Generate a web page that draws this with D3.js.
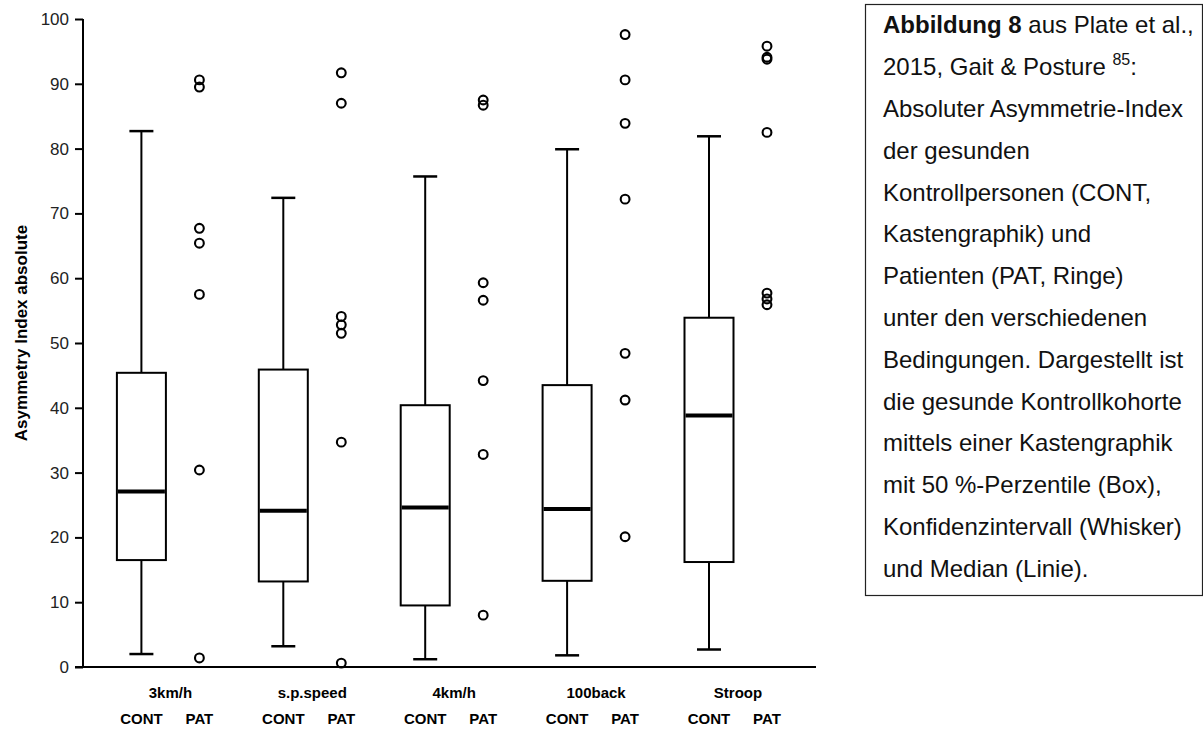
<!DOCTYPE html>
<html>
<head>
<meta charset="utf-8">
<script src="https://cdn.jsdelivr.net/npm/d3@7"></script>
<style>
  body { margin: 0; background: #fff; }
  svg { font-family: Arial, "Liberation Sans", sans-serif; }
</style>
</head>
<body>
<svg id="chart" width="1203" height="729"></svg>
<script>
(function() {
  /* Data */
  var categories = ["3km/h", "s.p.speed", "4km/h", "100back", "Stroop"];
  var groups = ["CONT", "PAT"];
  var contLow = [2.0, 3.2, 1.2, 1.8, 2.7];
  var contQ1 = [16.5, 13.2, 9.5, 13.3, 16.2];
  var contMedian = [27.1, 24.1, 24.6, 24.4, 38.8];
  var contQ3 = [45.4, 45.9, 40.4, 43.5, 53.9];
  var contHigh = [82.7, 72.4, 75.7, 79.9, 81.9];
  var patValues = [
    [90.6, 89.5, 67.7, 65.4, 57.5, 30.4, 1.4],
    [91.7, 87.0, 54.1, 52.8, 51.5, 34.7, 0.6],
    [87.5, 86.7, 59.3, 56.6, 44.2, 32.8, 8.0],
    [97.6, 90.6, 83.9, 72.2, 48.4, 41.2, 20.1],
    [95.8, 94.1, 93.8, 82.5, 57.7, 56.8, 55.9]
  ];
  var yTicks = [0, 10, 20, 30, 40, 50, 60, 70, 80, 90, 100];
  var captionLines = [
    null,
    null,
    "Absoluter Asymmetrie-Index",
    "der gesunden",
    "Kontrollpersonen (CONT,",
    "Kastengraphik) und",
    "Patienten (PAT, Ringe)",
    "unter den verschiedenen",
    "Bedingungen. Dargestellt ist",
    "die gesunde Kontrollkohorte",
    "mittels einer Kastengraphik",
    "mit 50 %-Perzentile (Box),",
    "Konfidenzintervall (Whisker)",
    "und Median (Linie)."
  ];

  /* SVG properties */
  var svg = d3.select("#chart");
  var axisX = 83, axisRight = 816;
  var yTop = 19, yBottom = 667;
  var boxWidth = 49, capWidth = 24;

  var y = d3.scaleLinear().domain([0, 100]).range([yBottom, yTop]);
  var x = d3.scalePoint().domain(categories).range([170.4, 738]);
  var sub = d3.scalePoint().domain(groups).range([-29, 29]);

  /* y axis */
  var yAxis = svg.append("g")
                 .attr("transform", "translate(" + axisX + ",0)")
                 .call(d3.axisLeft(y).tickValues(yTicks).tickSize(8).tickPadding(6));
  yAxis.select(".domain").attr("stroke", "#000").attr("stroke-width", 2)
       .attr("d", "M0," + yTop + "V" + yBottom);
  yAxis.selectAll(".tick line").attr("stroke", "#000").attr("stroke-width", 2);
  yAxis.selectAll(".tick text").attr("font-size", 17).attr("fill", "#222")
       .attr("font-family", "Arial, 'Liberation Sans', sans-serif");

  /* x axis line */
  svg.append("line")
     .attr("x1", axisX - 8).attr("x2", axisRight)
     .attr("y1", y(0)).attr("y2", y(0))
     .attr("stroke", "#000").attr("stroke-width", 2);

  svg.append("text")
     .attr("transform", "translate(21,333) rotate(-90)")
     .attr("text-anchor", "middle")
     .attr("dominant-baseline", "central")
     .attr("font-size", 17).attr("font-weight", "bold")
     .text("Asymmetry Index absolute");

  /* x labels */
  svg.selectAll(".cat-label")
     .data(categories).enter().append("text")
     .attr("class", "cat-label")
     .attr("x", function(d) { return x(d); })
     .attr("y", 698)
     .attr("text-anchor", "middle")
     .attr("font-size", 15).attr("font-weight", "bold")
     .text(function(d) { return d; });

  categories.forEach(function(c) {
    groups.forEach(function(g) {
      svg.append("text")
         .attr("x", x(c) + sub(g))
         .attr("y", 724)
         .attr("text-anchor", "middle")
         .attr("font-size", 15).attr("font-weight", "bold")
         .text(g);
    });
  });

  /* CONT boxplots */
  var boxes = svg.selectAll(".box")
                 .data(categories).enter().append("g")
                 .attr("class", "box")
                 .attr("transform", function(d) { return "translate(" + (x(d) + sub("CONT")) + ",0)"; });
  boxes.append("line")
       .attr("x1", 0).attr("x2", 0)
       .attr("y1", function(d, i) { return y(contHigh[i]); })
       .attr("y2", function(d, i) { return y(contLow[i]); })
       .attr("stroke", "#000").attr("stroke-width", 2);
  boxes.append("rect")
       .attr("x", -boxWidth / 2).attr("width", boxWidth)
       .attr("y", function(d, i) { return y(contQ3[i]); })
       .attr("height", function(d, i) { return y(contQ1[i]) - y(contQ3[i]); })
       .attr("fill", "#fff").attr("stroke", "#000").attr("stroke-width", 2);
  boxes.append("line")
       .attr("x1", -boxWidth / 2 + 1).attr("x2", boxWidth / 2 - 1)
       .attr("y1", function(d, i) { return y(contMedian[i]); })
       .attr("y2", function(d, i) { return y(contMedian[i]); })
       .attr("stroke", "#000").attr("stroke-width", 4);
  [contHigh, contLow].forEach(function(arr) {
    boxes.append("line")
         .attr("x1", -capWidth / 2).attr("x2", capWidth / 2)
         .attr("y1", function(d, i) { return y(arr[i]); })
         .attr("y2", function(d, i) { return y(arr[i]); })
         .attr("stroke", "#000").attr("stroke-width", 2.5);
  });

  /* PAT points */
  categories.forEach(function(c, i) {
    svg.selectAll(null)
       .data(patValues[i]).enter().append("circle")
       .attr("cx", x(c) + sub("PAT"))
       .attr("cy", function(d) { return y(d); })
       .attr("r", 4.4)
       .attr("fill", "none").attr("stroke", "#000").attr("stroke-width", 2.1);
  });

  /* caption box */
  svg.append("rect")
     .attr("x", 865.5).attr("y", 4.5).attr("width", 337).attr("height", 591)
     .attr("fill", "#fff").attr("stroke", "#222").attr("stroke-width", 1.2);
  var lineH = 41.8, firstBase = 33.3, textX = 883;
  var cap = svg.append("g").attr("font-size", 24).attr("fill", "#111");
  var l0 = cap.append("text").attr("x", textX).attr("y", firstBase);
  l0.append("tspan").attr("font-weight", "bold").text("Abbildung 8");
  l0.append("tspan").text(" aus Plate et al.,");
  var l1 = cap.append("text").attr("x", textX).attr("y", firstBase + lineH);
  l1.append("tspan").text("2015, Gait & Posture ");
  l1.append("tspan").attr("font-size", 16).attr("dy", -10).text("85");
  l1.append("tspan").attr("dy", 10).text(":");
  captionLines.forEach(function(t, i) {
    if (!t) return;
    cap.append("text").attr("x", textX).attr("y", firstBase + i * lineH).text(t);
  });
})();
</script>
</body>
</html>
